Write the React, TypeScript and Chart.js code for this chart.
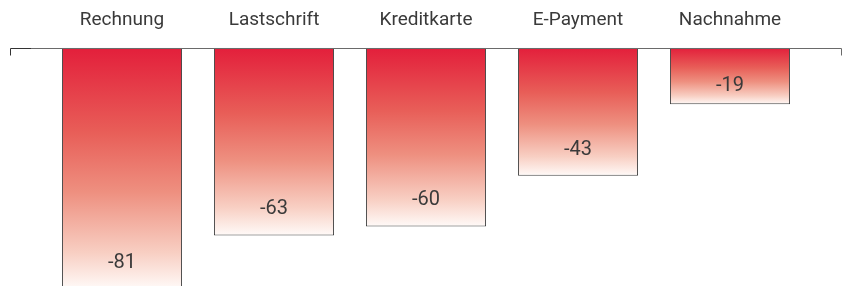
import React, { useEffect, useRef } from "react";
import { Chart, registerables } from "chart.js";

Chart.register(...registerables);

const categories = ["Rechnung", "Lastschrift", "Kreditkarte", "E-Payment", "Nachnahme"];
const values = [-81, -63, -60, -43, -19];
const yMin = -80;
const yMax = 0;

const FONT = "Roboto, 'DejaVu Sans', sans-serif";

const axisLinePlugin = {
  id: "axisLine",
  afterDatasetsDraw(chart: any) {
    const ctx = chart.ctx;
    const y0 = Math.round(chart.scales.y.getPixelForValue(0)) + 0.5;
    ctx.save();
    ctx.lineWidth = 1;
    ctx.strokeStyle = "#6a6a6a";
    ctx.beginPath();
    ctx.moveTo(30, y0);
    ctx.lineTo(841.5, y0);
    ctx.lineTo(841.5, y0 + 7);
    ctx.stroke();
    ctx.strokeStyle = "#333333";
    ctx.beginPath();
    ctx.moveTo(10.5, y0 + 7);
    ctx.lineTo(10.5, y0);
    ctx.lineTo(31, y0);
    ctx.stroke();
    ctx.restore();
  },
};

const valueLabelPlugin = {
  id: "valueLabels",
  afterDatasetsDraw(chart: any) {
    const ctx = chart.ctx;
    const meta = chart.getDatasetMeta(0);
    ctx.save();
    ctx.font = `20px ${FONT}`;
    ctx.fillStyle = "#3a3a3a";
    ctx.textAlign = "center";
    ctx.textBaseline = "middle";
    meta.data.forEach((el: any, i: number) => {
      const h = Math.abs(el.y - el.base);
      const off = Math.min(26, h / 3);
      ctx.fillText(String(values[i]), el.x, el.y - off);
    });
    ctx.restore();
  },
};

export default function App() {
  const ref = useRef<HTMLCanvasElement | null>(null);
  useEffect(() => {
    if (!ref.current) return;
    const chart = new Chart(ref.current, {
      type: "bar",
      data: {
        labels: categories,
        datasets: [
          {
            data: values,
            backgroundColor: (c: any) => {
              const ch = c.chart;
              if (!ch.chartArea || !ch.scales.y) return "#e8705f";
              const ys = ch.scales.y;
              const v = values[c.dataIndex];
              const top = ys.getPixelForValue(0);
              const bottom = ys.getPixelForValue(v);
              const g = ch.ctx.createLinearGradient(0, top, 0, bottom);
              g.addColorStop(0, "#e31f3b");
              g.addColorStop(0.35, "#e85e58");
              g.addColorStop(0.6, "#ee9080");
              g.addColorStop(0.85, "#f8cfc3");
              g.addColorStop(1, "#fffaf8");
              return g;
            },
            borderColor: "#444444",
            borderWidth: 1,
            borderSkipped: false,
            barPercentage: 0.79,
            categoryPercentage: 1,
          },
        ],
      },
      options: {
        responsive: false,
        animation: false,
        devicePixelRatio: 1,
        layout: { padding: { left: 46, right: 37, top: -7, bottom: 0 } },
        plugins: { legend: { display: false }, tooltip: { enabled: false } },
        scales: {
          x: {
            position: "top",
            grid: { display: false, drawTicks: false },
            border: { display: false },
            ticks: {
              color: "#3a3a3a",
              font: { family: FONT, size: 19 },
              padding: 16,
            },
          },
          y: {
            display: false,
            min: yMin,
            max: yMax,
          },
        },
      },
      plugins: [valueLabelPlugin, axisLinePlugin],
    });
    return () => chart.destroy();
  }, []);
  return (
    <div style={{ position: "absolute", left: 0, top: 0, width: 843, height: 286 }}>
      <canvas ref={ref} width={843} height={286} style={{ display: "block" }} />
    </div>
  );
}
